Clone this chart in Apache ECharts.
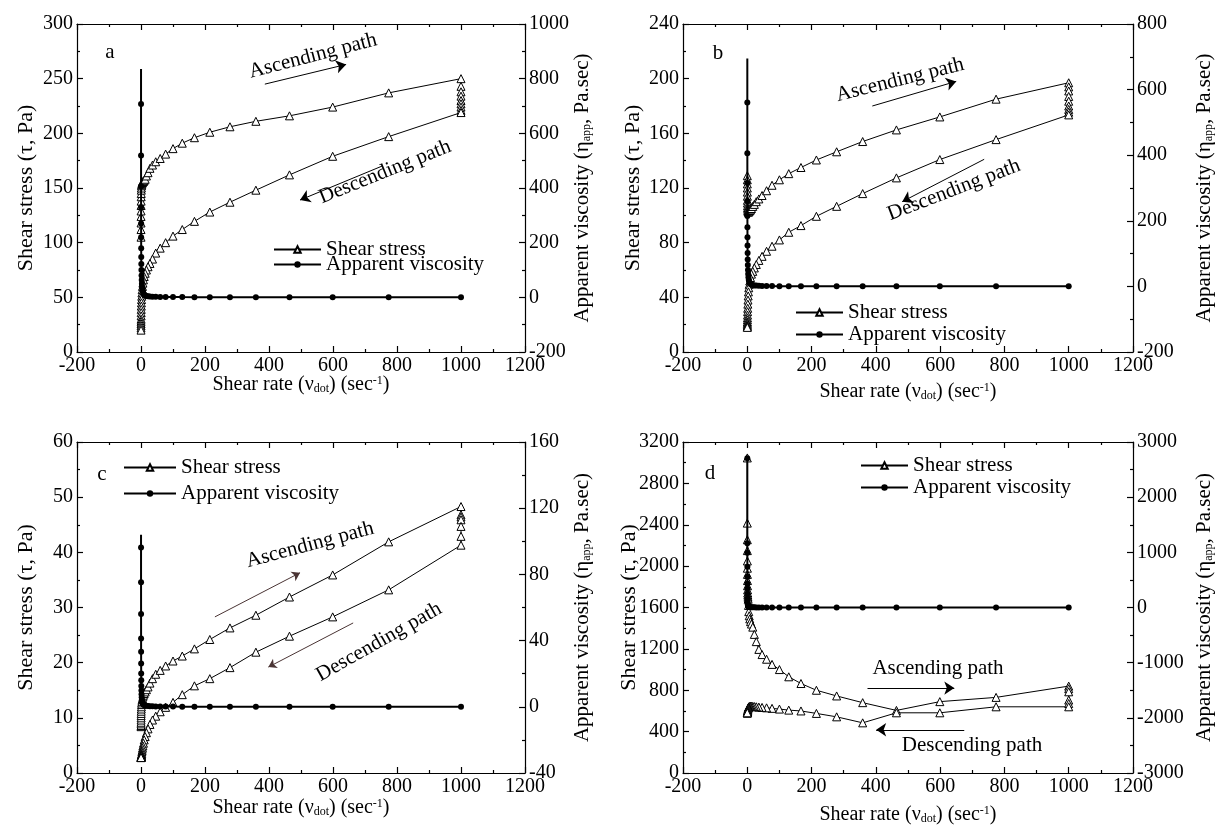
<!DOCTYPE html>
<html>
<head>
<meta charset="utf-8">
<script src="https://cdn.jsdelivr.net/npm/echarts@6/dist/echarts.min.js"></script>
<style>
html, body { margin: 0; padding: 0; background: #fff; }
#chart { width: 1216px; height: 833px; }
</style>
</head>
<body>
<div id="chart"></div>
<script>
// shear rate steps (sec-1), ascending sweep and the same steps coming back down
const rateUp = [0.1, 0.13, 0.17, 0.22, 0.28, 0.36, 0.46, 0.6, 0.77,
  1, 1.3, 1.7, 2.2, 2.8, 3.6, 4.6, 6, 7.7,
  10, 13, 17, 22, 28, 36, 46, 60, 77,
  100, 129, 167, 215, 278, 359, 464, 599, 774, 1000];
const rateDown = [1000, 774, 599, 464, 359, 278, 215, 167, 129,
  100, 77, 60, 46, 36, 28, 22, 17, 13,
  10, 7.7, 6, 4.6, 3.6, 2.8, 2.2, 1.7, 1.3,
  1, 0.77, 0.6, 0.46, 0.36, 0.28, 0.22, 0.17, 0.13, 0.1];
const holdRate = 1000;

// axis ranges [min, max, interval]
const xRange = [-200, 1200, 200];
const stressAxisA = [0, 300, 50], viscAxisA = [-200, 1000, 200];
const stressAxisB = [0, 240, 40], viscAxisB = [-200, 800, 200];
const stressAxisC = [0, 60, 10], viscAxisC = [-40, 160, 40];
const stressAxisD = [0, 3200, 400], viscAxisD = [-3000, 3000, 1000];

// panel a
const stressUpA = [105, 112, 118, 124, 129, 134, 138, 142, 145,
  148, 150, 152, 153, 154, 155, 155, 156, 156,
  157, 158, 161, 164, 168, 171, 174, 177, 181,
  186, 191, 196, 201, 206, 211, 216, 224, 237, 250];
const stressHoldA = [243, 238, 234, 230, 227, 224, 221];
const stressDownA = [219, 197, 179, 162, 148, 137, 128, 119.5, 112,
  106, 100, 95, 90.5, 85, 81, 78, 75, 72,
  69, 66, 63, 60, 57, 54, 51, 48, 45,
  42, 39, 36, 33, 30, 28, 26, 24, 22, 20];
const viscA = [835, 707, 519, 406, 330, 270, 220, 180, 148,
  122, 100, 80, 63, 50, 38, 28, 20, 14,
  10, 7, 5, 4, 3, 2.5, 2, 1.5, 1.2,
  1, 0.8, 0.7, 0.6, 0.5, 0.45, 0.4, 0.35, 0.3, 0.25];

// panel b
const stressUpB = [129, 126, 123, 120, 117, 114, 111, 109, 107,
  105.5, 104.5, 103.5, 103, 102.5, 102.5, 102.5, 103, 103.5,
  104, 105, 106.5, 108, 110, 112, 114.5, 118, 122,
  126, 130.5, 135, 140.5, 146.5, 154, 162.5, 172, 185, 197];
const stressHoldB = [194, 191, 187, 183.5, 180, 177.5, 175.5];
const stressDownB = [173.5, 155.4, 140.8, 127.4, 115.9, 106.6, 99.3, 92.5, 87.6,
  82, 77.4, 73.7, 70, 67, 64, 61.5, 59, 57,
  54.5, 52, 49.5, 47, 44, 41, 38, 35, 32,
  29.5, 27, 25, 23.5, 22, 21, 20, 19, 18.5, 18];
const viscB = [695, 561, 406, 315, 260, 215, 180, 150, 125,
  102, 82, 65, 50, 38, 28, 20, 14, 10,
  7, 5, 4, 3, 2.5, 2, 1.5, 1.2, 1,
  0.8, 0.7, 0.6, 0.5, 0.45, 0.4, 0.35, 0.3, 0.25, 0.2];

// panel c
const stressUpC = [8.4, 8.6, 8.9, 9.2, 9.6, 10, 10.4, 10.8, 11.2,
  11.6, 12, 12.4, 12.7, 13, 13.3, 13.5, 13.8, 14.1,
  14.4, 14.7, 15.1, 15.6, 16.3, 17.1, 17.9, 18.6, 19.4,
  20.3, 21.2, 22.5, 24.2, 26.3, 28.6, 31.9, 35.9, 41.9, 48.3];
const stressHoldC = [46.8, 46.4, 45.9, 44.7, 42.9];
const stressDownC = [41.3, 33.2, 28.3, 24.8, 21.9, 19.1, 17.1, 15.8, 14.2,
  12.8, 11.9, 11.1, 10.3, 9.6, 8.8, 8.0, 7.3, 6.6,
  6.0, 5.4, 4.9, 4.5, 4.1, 3.8, 3.5, 3.3, 3.2,
  3.1, 3.0, 2.95, 2.9, 2.9, 2.85, 2.85, 2.8, 2.8, 2.8];
const viscC = [104, 96.3, 75.2, 56, 41.3, 33.2, 26.2, 20.1, 16,
  12.5, 9.8, 7.6, 5.8, 4.4, 3.3, 2.5, 1.9, 1.4,
  1.1, 0.8, 0.6, 0.5, 0.4, 0.3, 0.25, 0.2, 0.15,
  0.12, 0.1, 0.09, 0.08, 0.07, 0.06, 0.06, 0.05, 0.05, 0.05];

// panel d
const stressUpD = [3046, 2416, 2255, 2150, 2050, 1980, 1920, 1860, 1810,
  1770, 1740, 1720, 1700, 1680, 1620, 1560, 1520, 1490,
  1463, 1440, 1410, 1340, 1270, 1195, 1145, 1100, 1050,
  1000, 930, 865, 800, 745, 680, 605, 690, 731, 840];
const stressHoldD = [815, 785, 705, 672];
const stressDownD = [640, 640, 582, 582, 485, 543, 576, 600, 608,
  618, 625, 630, 634, 637, 640, 642, 644, 645,
  645, 644, 642, 638, 634, 628, 620, 612, 605,
  598, 592, 588, 585, 583, 582, 582, 582, 582, 582];
const viscD = [2704, 1163, 992, 738, 557, 437, 346, 256, 165,
  103, 70, 50, 35, 25, 18, 13, 9, 7,
  5, 4, 3, 2.5, 2, 1.5, 1.2, 1, 0.9,
  0.8, 0.7, 0.6, 0.5, 0.45, 0.4, 0.35, 0.3, 0.25, 0.2];

const FONT = '"Liberation Serif", "Times New Roman", serif';
const chart = echarts.init(document.getElementById('chart'));

const panels = [
  { grid: { left: 77, top: 24, width: 448, height: 328 }, yl: stressAxisA, yr: viscAxisA,
    up: stressUpA, hold: stressHoldA, down: stressDownA, visc: viscA, hideTop: true,
    xGap: 23, ylGap: 40, yrGap: 47,
    legend: { left: 273, top: 239, w: 47, gap: -6 },
    arrows: [[[387, 245], [641, 263]], [[753, 170], [497, 139]]], arrowColor: '#000', arrowSize: 10 },
  { grid: { left: 683, top: 24, width: 450, height: 328 }, yl: stressAxisB, yr: viscAxisB,
    up: stressUpB, hold: stressHoldB, down: stressDownB, visc: viscB, hideTop: true,
    xGap: 30, ylGap: 39, yrGap: 61,
    legend: { left: 795, top: 302, w: 47, gap: 1 },
    arrows: [[[389, 180], [650, 198]], [[737, 141], [482, 110]]], arrowColor: '#000', arrowSize: 10 },
  { grid: { left: 77, top: 442, width: 448, height: 331 }, yl: stressAxisC, yr: viscAxisC,
    up: stressUpC, hold: stressHoldC, down: stressDownC, visc: viscC, hideTop: true,
    xGap: 25, ylGap: 40, yrGap: 47,
    legend: { left: 123, top: 457, w: 52, gap: 5 },
    arrows: [[[231, 28.3], [497, 36.3]], [[663, 27.2], [398, 19.2]]], arrowColor: '#4a3434', arrowSize: 8 },
  { grid: { left: 683, top: 442, width: 450, height: 331 }, yl: stressAxisD, yr: viscAxisD,
    up: stressUpD, hold: stressHoldD, down: stressDownD, visc: viscD, hideTop: false,
    xGap: 32, ylGap: 43, yrGap: 61,
    legend: { left: 860, top: 455, w: 47, gap: 1 },
    arrows: [[[374, 821], [644, 821]], [[675, 418], [401, 418]]], arrowColor: '#000', arrowSize: 10 }
];

const notes = [
  { text: 'a', x: 110, y: 52, r: 0 },
  { text: 'Ascending path', x: 313, y: 56, r: 14.5 },
  { text: 'Descending path', x: 385, y: 172, r: 22 },
  { text: 'b', x: 718, y: 53, r: 0 },
  { text: 'Ascending path', x: 900, y: 80, r: 14 },
  { text: 'Descending path', x: 954, y: 190, r: 21 },
  { text: 'c', x: 102, y: 474, r: 0 },
  { text: 'Ascending path', x: 310, y: 545, r: 15 },
  { text: 'Descending path', x: 379, y: 642, r: 29.5 },
  { text: 'd', x: 710, y: 473, r: 0 },
  { text: 'Ascending path', x: 938, y: 668, r: 0 },
  { text: 'Descending path', x: 972, y: 745, r: 0 }
];

const lineCol = { color: '#000', width: 1.2 };
const rich = {
  sub: { fontSize: 12, fontFamily: FONT, color: '#000', verticalAlign: 'bottom', lineHeight: 7 },
  sup: { fontSize: 12, fontFamily: FONT, color: '#000', verticalAlign: 'top', lineHeight: 12 }
};

function axisBase(range) {
  return {
    type: 'value', min: range[0], max: range[1], interval: range[2],
    nameMoveOverlap: false,
    axisLine: { show: true, onZero: false, lineStyle: lineCol },
    axisTick: { show: true, inside: true, length: 6, lineStyle: lineCol },
    minorTick: { show: true, splitNumber: 2, length: 3, lineStyle: lineCol },
    splitLine: { show: false },
    axisLabel: { color: '#000', fontSize: 20, fontFamily: FONT, margin: 4, formatter: v => String(v) }
  };
}

function pairs(xs, ys) { return ys.map((y, k) => [xs[k], y]); }

const option = {
  animation: false,
  backgroundColor: '#fff',
  grid: [], xAxis: [], yAxis: [], series: [], legend: [], graphic: []
};

panels.forEach((p, i) => {
  option.grid.push(Object.assign({ containLabel: false }, p.grid));
  option.xAxis.push(Object.assign(axisBase(xRange), {
    gridIndex: i, position: 'bottom',
    name: 'Shear rate (ν{sub|dot}) (sec{sup|-1})', nameLocation: 'middle', nameGap: p.xGap,
    nameTextStyle: { color: '#000', fontSize: 20, fontFamily: FONT, rich: rich }
  }));
  option.xAxis.push(Object.assign(axisBase(xRange), {
    gridIndex: i, position: 'top', axisLabel: { show: false }
  }));
  option.yAxis.push(Object.assign(axisBase(p.yl), {
    gridIndex: i, position: 'left',
    name: 'Shear stress (τ, Pa)', nameLocation: 'middle', nameGap: p.ylGap, nameRotate: 90,
    nameTextStyle: { color: '#000', fontSize: 22, fontFamily: FONT }
  }));
  option.yAxis.push(Object.assign(axisBase(p.yr), {
    gridIndex: i, position: 'right',
    name: 'Apparent viscosity (η{sub|app}, Pa.sec)', nameLocation: 'middle', nameGap: p.yrGap, nameRotate: 90,
    nameTextStyle: { color: '#000', fontSize: 21, fontFamily: FONT, rich: rich }
  }));

  const stressData = pairs(rateUp, p.up)
    .concat(p.hold.map(v => [holdRate, v]))
    .concat(pairs(rateDown, p.down));
  const viscData = pairs(rateUp, p.visc).map((d, k) =>
    (k === 0 && p.hideTop) ? { value: d, symbol: 'none' } : d);

  option.series.push({
    name: 'Shear stress', type: 'line', xAxisIndex: 2 * i, yAxisIndex: 2 * i,
    data: stressData, symbol: 'triangle', symbolSize: 8, z: 3,
    itemStyle: { color: '#fff', borderColor: '#000', borderWidth: 1 },
    lineStyle: { color: '#000', width: 1 },
    markLine: {
      silent: true, animation: false, symbol: ['none', 'arrow'], symbolSize: p.arrowSize,
      label: { show: false },
      lineStyle: { color: p.arrowColor, width: 1, type: 'solid' },
      emphasis: { disabled: true },
      data: p.arrows.map(a => [{ coord: a[0] }, { coord: a[1] }])
    }
  });
  option.series.push({
    name: 'Apparent viscosity', type: 'line', xAxisIndex: 2 * i + 1, yAxisIndex: 2 * i + 1,
    data: viscData, symbol: 'circle', symbolSize: 6, z: 4,
    itemStyle: { color: '#000' },
    lineStyle: { color: '#000', width: 2 }
  });

  option.legend.push({
    left: p.legend.left, top: p.legend.top, orient: 'vertical', padding: 0,
    itemWidth: p.legend.w, itemHeight: 8, itemGap: p.legend.gap, selectedMode: false,
    data: ['Shear stress', 'Apparent viscosity'],
    textStyle: { color: '#000', fontSize: 21, fontFamily: FONT }
  });
});

option.graphic = notes.map(n => ({
  type: 'text', x: n.x, y: n.y, rotation: n.r * Math.PI / 180, silent: true,
  style: {
    text: n.text, fill: '#000', fontSize: 21, fontFamily: FONT,
    align: 'center', verticalAlign: 'middle', textAlign: 'center', textVerticalAlign: 'middle'
  }
}));

chart.setOption(option);
</script>
</body>
</html>
